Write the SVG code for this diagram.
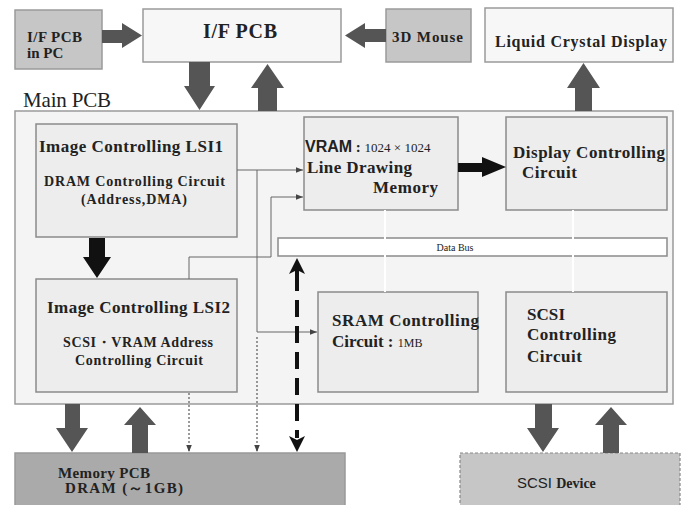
<svg xmlns="http://www.w3.org/2000/svg" width="683" height="505" viewBox="0 0 683 505">
<defs>
<style>
.bx{fill:#ededed;stroke:#8a8a8a;stroke-width:1.5}
.gr{fill:#c6c6c6;stroke:#9a9a9a;stroke-width:1.5}
.wt{fill:#f7f7f7;stroke:#9a9a9a;stroke-width:1.5}
.ar{fill:#555}
.bk{fill:#111}
.ln{fill:none;stroke:#666;stroke-width:1}
.dt{fill:none;stroke:#666;stroke-width:1.3;stroke-dasharray:2 2}
.t{font-family:"Liberation Serif","Times New Roman",serif;font-weight:bold;fill:#222}
.n{font-family:"Liberation Serif","Times New Roman",serif;font-weight:normal;fill:#222}
.s{font-family:"Liberation Sans",Arial,sans-serif;fill:#222}
</style>
<marker id="ah" viewBox="0 0 10 10" refX="10" refY="5" markerWidth="7" markerHeight="7" orient="auto" markerUnits="userSpaceOnUse">
<path d="M0,1 L10,5 L0,9 z" fill="#444"/>
</marker>
</defs>
<rect width="683" height="505" fill="#ffffff"/>

<g id="main-pcb">
<rect x="15" y="111" width="658" height="293" fill="#f4f4f4" stroke="#9a9a9a" stroke-width="1.5"/>
<text class="n" x="23" y="107" font-size="21" textLength="88">Main PCB</text>
</g>

<g id="if-pcb-pc">
<rect class="gr" x="15" y="10" width="87" height="59"/>
<text class="t" x="27" y="42" font-size="15" textLength="55">I/F PCB</text>
<text class="t" x="27" y="58" font-size="15">in PC</text>
</g>

<g id="if-pcb">
<rect class="wt" x="143" y="9" width="198" height="53"/>
<text class="t" x="203" y="38" font-size="20" textLength="74">I/F PCB</text>
</g>

<g id="mouse-3d">
<rect class="gr" x="386" y="9" width="85" height="53"/>
<text class="t" x="392" y="42" font-size="15" textLength="71">3D Mouse</text>
</g>

<g id="lcd">
<rect class="wt" x="485" y="8" width="188" height="54"/>
<text class="t" x="495" y="47" font-size="16" textLength="172">Liquid Crystal Display</text>
</g>

<g id="lsi1">
<rect class="bx" x="36" y="124" width="201" height="113"/>
<text class="t" x="39" y="152" font-size="17" textLength="184">Image Controlling LSI1</text>
<text class="t" x="44" y="186" font-size="14" textLength="181">DRAM Controlling Circuit</text>
<text class="t" x="81" y="204" font-size="14" textLength="106">(Address,DMA)</text>
</g>

<g id="lsi2">
<rect class="bx" x="36" y="279" width="201" height="113"/>
<text class="t" x="47" y="313" font-size="17" textLength="183">Image Controlling LSI2</text>
<text class="t" x="63" y="347" font-size="14" textLength="150">SCSI・VRAM Address</text>
<text class="t" x="75" y="365" font-size="14" textLength="128">Controlling Circuit</text>
</g>

<g id="vram">
<rect class="bx" x="304" y="117" width="154" height="93"/>
<text x="305" y="152"><tspan class="s" font-weight="bold" font-size="16">VRAM</tspan><tspan class="t" font-size="15"> : </tspan><tspan class="n" font-size="13">1024 × 1024</tspan></text>
<text class="t" x="307" y="173" font-size="17" textLength="105">Line Drawing</text>
<text class="t" x="373" y="193" font-size="17" textLength="65">Memory</text>
</g>

<g id="display-ctrl">
<rect class="bx" x="506" y="117" width="161" height="93"/>
<text class="t" x="513" y="158" font-size="17" textLength="152">Display Controlling</text>
<text class="t" x="522" y="178" font-size="17" textLength="55">Circuit</text>
</g>

<g id="data-bus">
<rect x="278" y="238" width="389" height="18" fill="#ffffff" stroke="#8a8a8a" stroke-width="1.5"/>
<text class="n" x="455" y="251" font-size="10" text-anchor="middle" fill="#555">Data Bus</text>
</g>

<g id="sram">
<rect class="bx" x="318" y="292" width="160" height="100"/>
<text class="t" x="332" y="326" font-size="17" textLength="147">SRAM Controlling</text>
<text x="332" y="347"><tspan class="t" font-size="17">Circuit : </tspan><tspan class="n" font-size="12">1MB</tspan></text>
</g>

<g id="scsi-ctrl">
<rect class="bx" x="506" y="292" width="161" height="100"/>
<text class="t" x="527" y="320" font-size="17" textLength="38">SCSI</text>
<text class="t" x="527" y="340" font-size="17" textLength="89">Controlling</text>
<text class="t" x="527" y="362" font-size="17" textLength="55">Circuit</text>
</g>

<g id="memory-pcb">
<rect x="15" y="453" width="330" height="55" fill="#aaaaaa" stroke="#999" stroke-width="1.5"/>
<text class="t" x="58" y="478" font-size="15" textLength="92">Memory PCB</text>
<text class="t" x="65" y="493" font-size="15" textLength="118">DRAM (～1GB)</text>
</g>

<g id="scsi-device">
<rect x="460" y="453" width="220" height="55" fill="#c6c6c6" stroke="#888" stroke-width="1.2" stroke-dasharray="3 2"/>
<text x="517" y="488"><tspan class="s" font-size="15">SCSI </tspan><tspan class="t" font-size="14">Device</tspan></text>
</g>

<g id="connectors">
<line x1="385" y1="210" x2="385" y2="292" stroke="#ffffff" stroke-width="2"/>
<line x1="573" y1="210" x2="573" y2="292" stroke="#ffffff" stroke-width="2"/>
<polygon class="ar" points="102,30 122,30 122,23 142,35.5 122,48 122,43 102,43"/>
<polygon class="ar" points="386,29 365,29 365,23 345,35.5 365,48 365,42 386,42"/>
<polygon class="ar" points="189,62 210,62 210,86 215,86 199.5,110 184,86 189,86"/>
<polygon class="ar" points="258,111 277,111 277,88 284,88 267.5,64 251,88 258,88"/>
<polygon class="ar" points="575,111 592,111 592,88 600,88 583.5,63 567,88 575,88"/>
<polygon class="ar" points="65,404 80,404 80,428 88,428 72,452 56,428 65,428"/>
<polygon class="ar" points="132,453 148,453 148,425 156,425 140,407 124,425 132,425"/>
<polygon class="ar" points="535,404 552,404 552,428 559,428 543,452 527,428 535,428"/>
<polygon class="ar" points="603,453 619,453 619,425 627,425 611,407 595,425 603,425"/>
<polygon class="bk" points="89,238 105,238 105,257 111,257 97,278 83,257 89,257"/>
<polygon class="bk" points="458,163 482,163 482,157 506,167 482,177 482,172 458,172"/>
<polyline class="ln" points="237,170 303,170" marker-end="url(#ah)"/>
<polyline class="ln" points="257,170 257,332 317,332" marker-end="url(#ah)"/>
<polyline class="ln" points="189,279 189,257 271,257 271,197 303,197" marker-end="url(#ah)"/>
<line class="dt" x1="257" y1="337" x2="257" y2="452" marker-end="url(#ah)"/>
<line class="dt" x1="189" y1="393" x2="189" y2="452" marker-end="url(#ah)"/>
<line x1="297" y1="274" x2="297" y2="438" stroke="#111" stroke-width="4" stroke-dasharray="17 9"/>
<polygon class="bk" points="297,258 305,274 297,270 289,274"/>
<polygon class="bk" points="297,452 305,436 297,440 289,436"/>
<line x1="297" y1="268" x2="297" y2="282" stroke="#111" stroke-width="4"/>
</g>
</svg>
